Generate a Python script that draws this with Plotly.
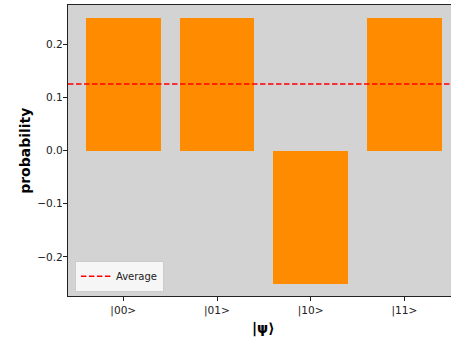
import numpy as np
import plotly.graph_objects as go

states = ["|00>", "|01>", "|10>", "|11>"]
probability = [0.25, 0.25, -0.25, 0.25]
y_ticks = [-0.2, -0.1, 0.0, 0.1, 0.2]

average = float(np.mean(probability))
positions = list(range(len(states)))
x_range = [-0.59, 3.497]
y_range = [-0.2735, 0.2735]

fig = go.Figure()
fig.add_trace(go.Bar(
    x=positions, y=probability, width=0.8,
    marker=dict(color="#ff8c00", line=dict(width=0)),
    showlegend=False,
))
fig.add_trace(go.Scatter(
    x=x_range, y=[average, average], mode="lines",
    line=dict(color="red", dash="5.5px,2.5px", width=1.5),
    name="Average",
))

font = "DejaVu Sans, sans-serif"
fig.update_layout(
    width=451, height=340,
    margin=dict(l=68, r=0, t=5, b=44),
    paper_bgcolor="white", plot_bgcolor="#d3d3d3",
    font=dict(family=font, size=10, color="#222"),
    bargap=0,
    legend=dict(
        x=0.018, y=0.015, xanchor="left", yanchor="bottom",
        bgcolor="rgba(255,255,255,0.8)", bordercolor="#cccccc", borderwidth=1,
        font=dict(size=10, color="#222"),
        itemwidth=30, tracegroupgap=0,
    ),
    showlegend=True,
)
fig.update_xaxes(
    range=x_range, tickmode="array", tickvals=positions, ticktext=states,
    showgrid=False, zeroline=False,
    showline=True, linecolor="#222", linewidth=1, mirror=True,
    ticks="outside", ticklen=4, tickcolor="#222", tickfont=dict(size=10.6),
)
fig.update_yaxes(
    range=y_range, tickmode="array", tickvals=y_ticks, tickformat=".1f",
    showgrid=False, zeroline=False,
    showline=True, linecolor="#222", linewidth=1,
    ticks="outside", ticklen=4, tickcolor="#222", tickfont=dict(size=10.6),
    ticklabelstandoff=-2,
)
fig.add_annotation(
    text="<b>probability</b>", xref="paper", yref="paper",
    x=-0.114, y=0.5, textangle=-90, showarrow=False,
    font=dict(family=font, size=14, color="black"),
    xanchor="center", yanchor="middle",
)
fig.add_annotation(
    text="<b>|ψ⟩</b>", xref="x", yref="paper",
    x=(x_range[0] + 3.59) / 2, y=0, yshift=-32, showarrow=False,
    font=dict(family=font, size=14, color="black"),
    xanchor="center", yanchor="middle",
)

fig.write_html(
    "out.html",
    config={"displayModeBar": False},
    post_script="document.body.style.margin='0';document.body.style.overflow='hidden';",
)
